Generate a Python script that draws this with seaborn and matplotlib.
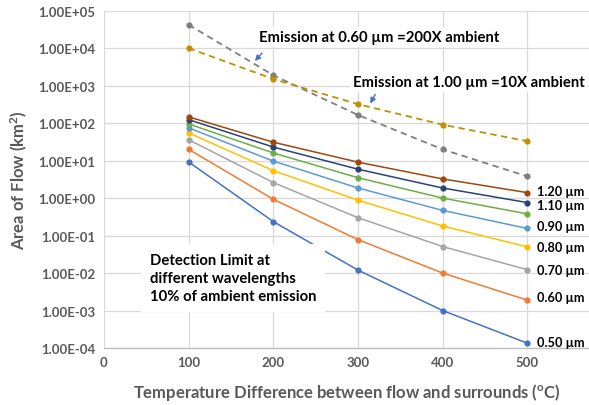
import numpy as np
import pandas as pd
import matplotlib
matplotlib.use("Agg")
import matplotlib.pyplot as plt
import seaborn as sns

# temperature difference (C)
temps = [100, 200, 300, 400, 500]

# detection limit curves, area of flow (km2)
w050 = [9.2, 0.236, 0.012, 0.001, 0.000135]
w060 = [20, 0.93, 0.078, 0.010, 0.0019]
w070 = [36, 2.6, 0.30, 0.051, 0.0123]
w080 = [55, 5.4, 0.88, 0.18, 0.050]
w090 = [75, 9.7, 1.86, 0.47, 0.155]
w100 = [95, 16, 3.5, 1.0, 0.38]
w110 = [124, 23, 5.9, 1.86, 0.76]
w120 = [147, 31, 9.1, 3.25, 1.4]

# emission curves (dashed)
emis060 = [42000, 1900, 165, 20, 3.8]
emis100 = [10000, 1500, 320, 91, 33]

wl_names = ["0.50 µm", "0.60 µm", "0.70 µm", "0.80 µm", "0.90 µm", "1.00 µm", "1.10 µm", "1.20 µm"]
wl_colors = ["#4472C4", "#ED7D31", "#A5A5A5", "#FFC000", "#5B9BD5", "#70AD47", "#264478", "#9E480E"]
# label nudges (points), 1.00 um has no label on the original
label_shift = {"0.50 µm": 1, "0.60 µm": 2, "0.70 µm": 0, "0.80 µm": 0,
               "0.90 µm": 2, "1.10 µm": -1.5, "1.20 µm": 1.5}

sns.set_theme(style="white")
plt.rcParams['font.family'] = ['Lato', 'DejaVu Sans']
plt.rcParams['mathtext.fontset'] = 'custom'
plt.rcParams['mathtext.rm'] = 'Lato'

grey_txt = "#595959"

fig = plt.figure(figsize=(5.89, 4.06), dpi=100)
ax = fig.add_axes([104/589, 1-349/406, 1-104/589, (349-11.7)/406])

curves = [w050, w060, w070, w080, w090, w100, w110, w120]
for name, col, vals in zip(wl_names, wl_colors, curves):
    df = pd.DataFrame({"T": temps, "A": vals})
    sns.lineplot(data=df, x="T", y="A", color=col, lw=1.1, marker="o",
                 markersize=4.5, markeredgewidth=0, ax=ax, zorder=3)
    if name in label_shift:
        ax.annotate(name, xy=(512, vals[-1]), xytext=(0, label_shift[name]),
                    textcoords="offset points", fontsize=9.2, fontweight="bold",
                    color="black", va="center", ha="left", zorder=6)

df = pd.DataFrame({"T": temps, "A": emis060})
sns.lineplot(data=df, x="T", y="A", color="#7F7F7F", lw=1.3, marker="o",
             markersize=4.5, markeredgewidth=0, ax=ax, zorder=3)
ax.lines[-1].set_dashes([3.5, 2.5])
df = pd.DataFrame({"T": temps, "A": emis100})
sns.lineplot(data=df, x="T", y="A", color="#BF9000", lw=1.3, marker="o",
             markersize=4.5, markeredgewidth=0, ax=ax, zorder=3)
ax.lines[-1].set_dashes([3.5, 2.5])

ax.set_yscale("log")
ax.set_ylim(1e-4, 1e5)
ax.set_xlim(0, 573)
ax.set_xticks([0, 100, 200, 300, 400, 500])
ax.set_yticks([10.0**k for k in range(-4, 6)])
ax.set_yticklabels(["%.2fE%+03d" % (1.0, k) for k in range(-4, 6)])
ax.yaxis.set_minor_locator(matplotlib.ticker.NullLocator())
ax.tick_params(axis="both", length=0, labelsize=9.5, labelcolor=grey_txt, pad=6)
for lab in ax.get_xticklabels() + ax.get_yticklabels():
    lab.set_fontweight("bold")

ax.grid(True, color="#D9D9D9", lw=0.9, zorder=0)
ax.set_axisbelow(True)
for s in ["top", "right", "left"]:
    ax.spines[s].set_visible(False)
ax.spines["bottom"].set_color("#BFBFBF")
ax.spines["bottom"].set_linewidth(1.0)

ax.set_xlabel("Temperature Difference between flow and surrounds ($\\mathregular{^o}$C)",
              fontsize=12, fontweight="bold", color=grey_txt, labelpad=9)
ax.set_ylabel("Area of Flow (km$\\mathregular{^2}$)", fontsize=12, fontweight="bold",
              color=grey_txt, labelpad=6)

box = dict(facecolor="white", edgecolor="none", pad=2)
ax.text(183, 10**4.30, "Emission at 0.60 µm =200X ambient", fontsize=10.7,
        fontweight="bold", color="black", va="center", ha="left", bbox=box, zorder=5)
ax.text(294, 10**3.10, "Emission at 1.00 µm =10X ambient", fontsize=10.7,
        fontweight="bold", color="black", va="center", ha="left", bbox=box, zorder=5)
arrow = dict(arrowstyle="-|>", color="#4472C4", lw=1.0, mutation_scale=8)
ax.annotate("", xy=(176, 10**3.605), xytext=(189, 10**3.925), arrowprops=arrow, zorder=5)
ax.annotate("", xy=(313, 10**2.459), xytext=(322, 10**2.832), arrowprops=arrow, zorder=5)

ax.text(54, 10**-2.13, "Detection Limit at\ndifferent wavelengths\n10% of ambient emission",
        fontsize=10.7, fontweight="bold", color="black", va="center", ha="left",
        linespacing=1.35, zorder=5,
        bbox=dict(facecolor="white", edgecolor="none", boxstyle="square,pad=0.6"))

fig.savefig("out.png", dpi=100)
